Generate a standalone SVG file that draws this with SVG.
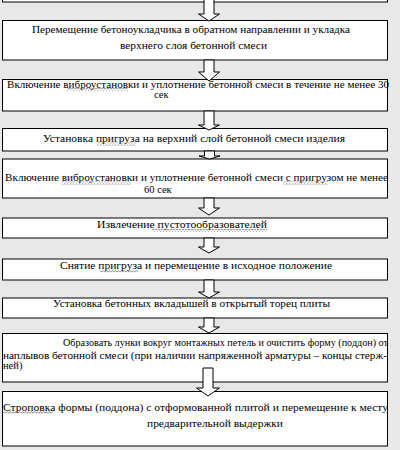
<svg xmlns="http://www.w3.org/2000/svg" width="400" height="450" viewBox="0 0 400 450">
<defs>
<style>
.bg{fill:#e8e8e8}
.box{fill:#ffffff;stroke:#000000;stroke-width:1}
.t{font-family:'Liberation Serif','DejaVu Serif',serif;font-size:10.5px;fill:#000000}
.arr{fill:#ffffff;stroke:#000000;stroke-width:1;stroke-linejoin:miter}
.sq{fill:url(#wave)}
</style>
<pattern id="wave" x="0" y="0" width="3" height="3" patternUnits="userSpaceOnUse">
<path d="M0,2.2 L1.5,0.8 L3,2.2" fill="none" stroke="#6a6a6a" stroke-width="0.8"/>
</pattern>
</defs>
<rect class="bg" x="0" y="0" width="400" height="450"/>

<g id="n0"><rect class="box" x="2.5" y="-10" width="385" height="12"/></g>

<g id="n1"><rect class="box" x="2.5" y="20.5" width="385" height="39.5"/>
<text class="t" font-family="Liberation Serif, serif" x="32" y="32.5" textLength="318" lengthAdjust="spacingAndGlyphs">Перемещение бетоноукладчика в обратном направлении и укладка</text>
<text class="t" font-family="Liberation Serif, serif" x="120" y="48.5" textLength="147" lengthAdjust="spacingAndGlyphs">верхнего слоя бетонной смеси</text></g>

<g id="n2"><rect class="box" x="2.5" y="79.5" width="385" height="31.5"/>
<text class="t" font-family="Liberation Serif, serif" x="7" y="87.5" textLength="382" lengthAdjust="spacingAndGlyphs">Включение виброустановки и уплотнение бетонной смеси в течение не менее 30</text>
<text class="t" font-family="Liberation Serif, serif" x="154" y="97.5">сек</text>
<rect class="sq" x="67" y="88" width="61" height="3"/></g>

<g id="n3"><rect class="box" x="2.5" y="128.5" width="385" height="22.5"/>
<text class="t" font-family="Liberation Serif, serif" x="43" y="141.5" textLength="302" lengthAdjust="spacingAndGlyphs">Установка пригруза на верхний слой бетонной смеси изделия</text>
<rect class="sq" x="97" y="142.5" width="39" height="3"/></g>

<g id="n4"><rect class="box" x="2.5" y="159" width="385" height="39"/>
<text class="t" font-family="Liberation Serif, serif" x="5" y="181" textLength="383" lengthAdjust="spacingAndGlyphs">Включение виброустановки и уплотнение бетонной смеси с пригрузом не менее</text>
<text class="t" font-family="Liberation Serif, serif" x="144" y="192.5">60 сек</text>
<rect class="sq" x="62" y="181.5" width="69" height="3"/>
<rect class="sq" x="283" y="181.5" width="45" height="3"/></g>

<g id="n5"><rect class="box" x="2.5" y="218" width="385" height="20"/>
<text class="t" font-family="Liberation Serif, serif" x="97" y="228" textLength="170" lengthAdjust="spacingAndGlyphs">Извлечение пустотообразователей</text>
<rect class="sq" x="152" y="229" width="115" height="3"/></g>

<g id="n6"><rect class="box" x="2.5" y="259" width="385" height="21"/>
<text class="t" font-family="Liberation Serif, serif" x="60" y="268.5" textLength="272" lengthAdjust="spacingAndGlyphs">Снятие пригруза и перемещение в исходное положение</text>
<rect class="sq" x="100" y="269.5" width="38" height="3"/></g>

<g id="n7"><rect class="box" x="2.5" y="298" width="385" height="20"/>
<text class="t" font-family="Liberation Serif, serif" x="53" y="307" textLength="277" lengthAdjust="spacingAndGlyphs">Установка бетонных вкладышей в открытый торец плиты</text></g>

<g id="n8"><rect class="box" x="2.5" y="333.5" width="385" height="48.5"/>
<text class="t" font-family="Liberation Serif, serif" x="63" y="345.5" textLength="325" lengthAdjust="spacingAndGlyphs">Образовать лунки вокруг монтажных петель и очистить форму (поддон) от</text>
<text class="t" font-family="Liberation Serif, serif" x="3" y="358.5" textLength="384" lengthAdjust="spacingAndGlyphs">наплывов бетонной смеси (при наличии напряженной арматуры – концы стерж-</text>
<text class="t" font-family="Liberation Serif, serif" x="3" y="369">ней)</text></g>

<g id="n9"><rect class="box" x="2.5" y="391.5" width="385" height="54.5"/>
<text class="t" font-family="Liberation Serif, serif" x="3" y="410.5" textLength="385" lengthAdjust="spacingAndGlyphs">Строповка формы (поддона) с отформованной плитой и перемещение к месту</text>
<text class="t" font-family="Liberation Serif, serif" x="147" y="426.5" textLength="136" lengthAdjust="spacingAndGlyphs">предварительной выдержки</text>
<rect class="sq" x="3" y="411" width="50" height="3"/></g>

<g id="connectors">
<path class="arr" d="M204,-1 H214 V14 H219.5 L209,21 L198.5,14 H204 Z"/>
<path class="arr" d="M204,60 H214 V72 H219.5 L209,81 L198.5,72 H204 Z"/>
<path class="arr" d="M204,111 H214 V125 H219.5 L209,130 L198.5,125 H204 Z"/>
<path class="arr" d="M204.5,151 H214.5 V156 H220 L209.5,159 L199,156 H204.5 Z"/>
<path class="arr" d="M204,198 H214 V208 H219.5 L209,215 L198.5,208 H204 Z"/>
<path class="arr" d="M204,238 H214 V247 H219.5 L209,253 L198.5,247 H204 Z"/>
<path class="arr" d="M204,280 H214 V292 H219.5 L209,298 L198.5,292 H204 Z"/>
<path class="arr" d="M204,318 H214 V327 H219.5 L209,333 L198.5,327 H204 Z"/>
<path class="arr" d="M203,368 H213 V388 H219.5 L208,396 L196.5,388 H203 Z"/>
</g>
</svg>
